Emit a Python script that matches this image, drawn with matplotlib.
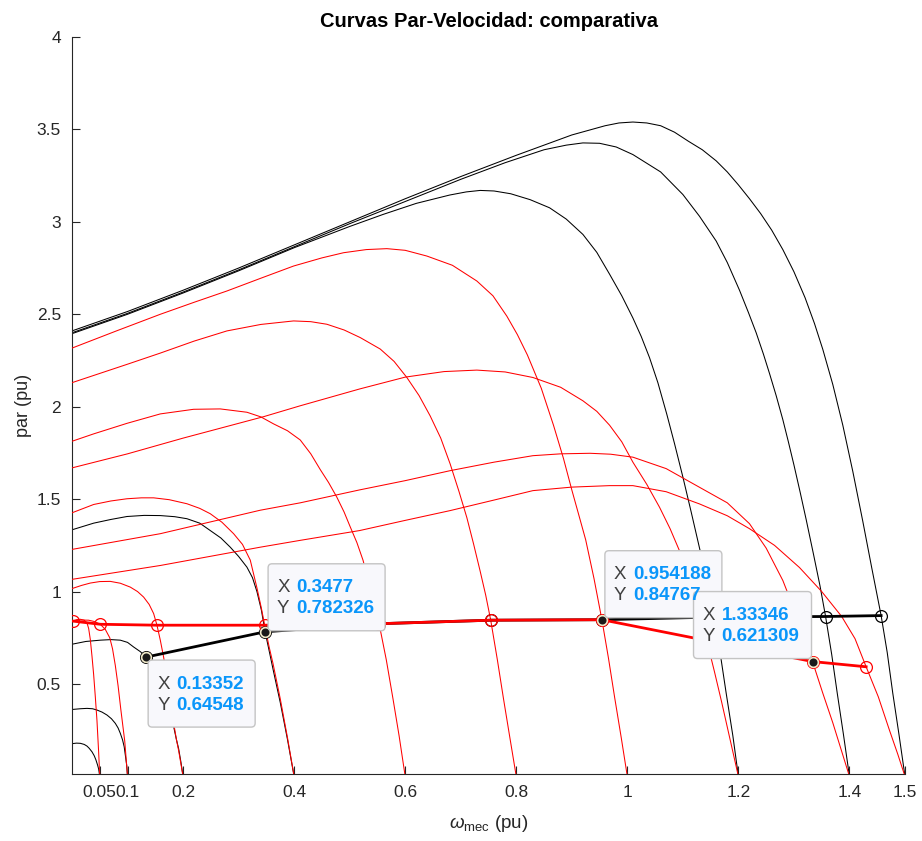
import matplotlib
matplotlib.use('Agg')
import matplotlib.pyplot as plt
from matplotlib.patches import FancyBboxPatch
from matplotlib.transforms import IdentityTransform

plt.rcParams['font.family'] = ['Liberation Sans', 'DejaVu Sans']
plt.rcParams['mathtext.fontset'] = 'custom'
plt.rcParams['mathtext.rm'] = 'Liberation Sans'
plt.rcParams['mathtext.it'] = 'Liberation Sans:italic'

# ---------------- data ----------------
# black curves (sync speed in the name)
b005_w = [0, 0.008, 0.015, 0.022, 0.027, 0.031, 0.036, 0.04, 0.043, 0.046, 0.048, 0.05]
b005_t = [0.177, 0.18, 0.179, 0.173, 0.164, 0.152, 0.133, 0.112, 0.09, 0.062, 0.04, 0.0]
b01_w = [0, 0.015, 0.027, 0.037, 0.045, 0.054, 0.063, 0.071, 0.078, 0.083, 0.087, 0.091, 0.094, 0.0965, 0.0985, 0.1]
b01_t = [0.362, 0.366, 0.368, 0.366, 0.359, 0.348, 0.332, 0.312, 0.287, 0.262, 0.233, 0.198, 0.16, 0.105, 0.06, 0.0]
b02_w = [0, 0.025, 0.051, 0.07, 0.087, 0.1, 0.111, 0.123, 0.13352, 0.142, 0.15, 0.158, 0.165, 0.171,
         0.177, 0.183, 0.188, 0.192, 0.196, 0.2]
b02_t = [0.715, 0.73, 0.737, 0.74, 0.737, 0.725, 0.70, 0.675, 0.64548, 0.61, 0.57, 0.52, 0.47, 0.42,
         0.35, 0.27, 0.2, 0.15, 0.08, 0.0]
b04_w = [0, 0.039, 0.07, 0.099, 0.13, 0.159, 0.185, 0.207, 0.23, 0.249, 0.268, 0.285, 0.3, 0.315,
         0.325, 0.333, 0.341, 0.3477, 0.355, 0.362, 0.375, 0.388, 0.4]
b04_t = [1.334, 1.37, 1.39, 1.406, 1.412, 1.411, 1.405, 1.394, 1.37, 1.33, 1.29, 1.24, 1.19, 1.132,
         1.075, 1.0, 0.9, 0.782326, 0.68, 0.58, 0.40, 0.2, 0.0]
b12_w = [0, 0.1, 0.2, 0.3, 0.4, 0.5, 0.56, 0.62, 0.68, 0.71, 0.735, 0.76, 0.79, 0.825, 0.86, 0.89,
         0.92, 0.945, 0.968, 0.99, 1.01, 1.025, 1.04, 1.055, 1.071, 1.085, 1.1, 1.115, 1.13, 1.145,
         1.157, 1.168, 1.178, 1.19, 1.2]
b12_t = [2.395, 2.50, 2.615, 2.735, 2.86, 2.975, 3.04, 3.10, 3.145, 3.162, 3.17, 3.167, 3.152, 3.12,
         3.076, 3.015, 2.932, 2.835, 2.717, 2.6, 2.48, 2.38, 2.265, 2.13, 1.96, 1.8, 1.62, 1.43, 1.235,
         1.04, 0.862, 0.65, 0.45, 0.22, 0.0]
b14_w = [0, 0.1, 0.2, 0.3, 0.4, 0.5, 0.6, 0.7, 0.78, 0.85, 0.89, 0.92, 0.95, 0.98, 1.01, 1.06, 1.1,
         1.13, 1.16, 1.18, 1.202, 1.218, 1.232, 1.245, 1.256, 1.268, 1.28, 1.29, 1.30, 1.311, 1.322,
         1.335, 1.347, 1.357, 1.368, 1.378, 1.389, 1.4]
b14_t = [2.40, 2.505, 2.62, 2.74, 2.865, 2.99, 3.11, 3.23, 3.32, 3.39, 3.415, 3.427, 3.425, 3.405,
         3.364, 3.27, 3.148, 3.03, 2.896, 2.78, 2.63, 2.51, 2.40, 2.285, 2.18, 2.06, 1.93, 1.81, 1.685,
         1.54, 1.39, 1.205, 1.03, 0.865, 0.66, 0.45, 0.23, 0.0]
b15_w = [0, 0.1, 0.2, 0.3, 0.4, 0.5, 0.6, 0.7, 0.8, 0.9, 0.96, 0.985, 1.01, 1.035, 1.06, 1.085, 1.11,
         1.135, 1.16, 1.18, 1.2, 1.22, 1.24, 1.26, 1.28, 1.3, 1.32, 1.337, 1.352, 1.37, 1.388, 1.406,
         1.424, 1.44, 1.457, 1.468, 1.478, 1.489, 1.5]
b15_t = [2.41, 2.515, 2.63, 2.75, 2.875, 3.0, 3.125, 3.245, 3.36, 3.47, 3.52, 3.535, 3.54, 3.535,
         3.52, 3.485, 3.436, 3.39, 3.33, 3.27, 3.2, 3.125, 3.045, 2.955, 2.85, 2.73, 2.59, 2.45, 2.31,
         2.12, 1.9, 1.65, 1.38, 1.13, 0.87, 0.67, 0.45, 0.23, 0.0]

# red curves
r005_w = [0, 0.008, 0.015, 0.022, 0.027, 0.03, 0.033, 0.036, 0.039, 0.042, 0.045, 0.048, 0.05]
r005_t = [0.84, 0.848, 0.85, 0.845, 0.83, 0.80, 0.74, 0.65, 0.55, 0.43, 0.30, 0.13, 0.0]
r01_w = [0, 0.015, 0.03, 0.04, 0.051, 0.06, 0.068, 0.073, 0.078, 0.083, 0.088, 0.095, 0.1]
r01_t = [0.84, 0.846, 0.845, 0.838, 0.823, 0.795, 0.75, 0.69, 0.60, 0.49, 0.36, 0.19, 0.0]
r02_w = [0, 0.017, 0.033, 0.05, 0.069, 0.087, 0.105, 0.118, 0.129, 0.139, 0.147, 0.153, 0.159,
         0.165, 0.17, 0.176, 0.183, 0.188, 0.192, 0.196, 0.2]
r02_t = [1.016, 1.033, 1.046, 1.054, 1.055, 1.045, 1.024, 1.0, 0.97, 0.93, 0.881, 0.818, 0.737,
         0.645, 0.55, 0.43, 0.29, 0.2, 0.14, 0.07, 0.0]
r04_w = [0, 0.039, 0.07, 0.099, 0.125, 0.147, 0.175, 0.207, 0.23, 0.249, 0.27, 0.291, 0.307, 0.321,
         0.333, 0.341, 0.347, 0.355, 0.362, 0.375, 0.388, 0.4]
r04_t = [1.426, 1.471, 1.49, 1.502, 1.507, 1.507, 1.497, 1.475, 1.45, 1.421, 1.375, 1.313, 1.255,
         1.17, 1.02, 0.91, 0.818, 0.70, 0.61, 0.42, 0.21, 0.0]
r06_w = [0, 0.039, 0.099, 0.159, 0.219, 0.267, 0.315, 0.34, 0.363, 0.388, 0.411, 0.43, 0.447, 0.462,
         0.477, 0.49, 0.501, 0.513, 0.524, 0.538, 0.553, 0.566, 0.578, 0.589, 0.6]
r06_t = [1.813, 1.853, 1.91, 1.961, 1.986, 1.988, 1.97, 1.945, 1.907, 1.87, 1.82, 1.745, 1.66, 1.59,
         1.51, 1.43, 1.35, 1.265, 1.17, 1.01, 0.826, 0.63, 0.42, 0.22, 0.0]
r08_w = [0, 0.1, 0.159, 0.22, 0.279, 0.34, 0.399, 0.43, 0.459, 0.49, 0.519, 0.555, 0.58, 0.603,
         0.625, 0.645, 0.664, 0.681, 0.697, 0.711, 0.723, 0.735, 0.745, 0.754, 0.766, 0.777, 0.789, 0.8]
r08_t = [2.13, 2.23, 2.29, 2.355, 2.41, 2.445, 2.464, 2.46, 2.446, 2.415, 2.374, 2.312, 2.245, 2.158,
         2.06, 1.95, 1.83, 1.69, 1.54, 1.40, 1.259, 1.11, 0.98, 0.845, 0.63, 0.42, 0.2, 0.0]
r10_w = [0, 0.08, 0.159, 0.22, 0.279, 0.34, 0.399, 0.45, 0.489, 0.53, 0.567, 0.6, 0.639, 0.685,
         0.729, 0.758, 0.783, 0.802, 0.82, 0.845, 0.867, 0.885, 0.9, 0.913, 0.925, 0.94, 0.954188,
         0.966, 0.977, 0.989, 1.0]
r10_t = [2.317, 2.41, 2.5, 2.565, 2.626, 2.695, 2.761, 2.805, 2.833, 2.85, 2.855, 2.846, 2.815, 2.765,
         2.68, 2.60, 2.49, 2.39, 2.28, 2.10, 1.90, 1.72, 1.55, 1.41, 1.28, 1.07, 0.84767, 0.64, 0.43,
         0.21, 0.0]
r12_w = [0, 0.1, 0.2, 0.345, 0.411, 0.518, 0.6, 0.67, 0.729, 0.78, 0.83, 0.88, 0.92, 0.945, 0.968,
         0.99, 1.01, 1.035, 1.058, 1.077, 1.094, 1.108, 1.12, 1.132, 1.143, 1.157, 1.17, 1.185, 1.2]
r12_t = [1.669, 1.745, 1.83, 1.946, 2.005, 2.096, 2.16, 2.19, 2.198, 2.188, 2.158, 2.105, 2.032,
         1.975, 1.90, 1.81, 1.70, 1.58, 1.456, 1.34, 1.22, 1.11, 1.0, 0.87, 0.735, 0.565, 0.40, 0.2, 0.0]
r14_w = [0, 0.159, 0.339, 0.411, 0.518, 0.6, 0.681, 0.76, 0.83, 0.88, 0.933, 0.97, 1.01, 1.07, 1.13,
         1.18, 1.22, 1.25, 1.28, 1.31, 1.33346, 1.352, 1.37, 1.385, 1.4]
r14_t = [1.228, 1.313, 1.44, 1.48, 1.55, 1.60, 1.654, 1.70, 1.735, 1.745, 1.748, 1.743, 1.727, 1.665,
         1.564, 1.48, 1.367, 1.235, 1.06, 0.83, 0.621309, 0.45, 0.29, 0.145, 0.0]
r15_w = [0, 0.159, 0.339, 0.411, 0.518, 0.6, 0.681, 0.76, 0.83, 0.9, 0.968, 1.01, 1.07, 1.13, 1.18,
         1.22, 1.265, 1.31, 1.35, 1.386, 1.41, 1.43, 1.452, 1.472, 1.487, 1.5]
r15_t = [1.066, 1.141, 1.24, 1.277, 1.33, 1.385, 1.438, 1.495, 1.546, 1.565, 1.573, 1.573, 1.54,
         1.474, 1.41, 1.34, 1.25, 1.13, 1.0, 0.865, 0.745, 0.593, 0.43, 0.25, 0.12, 0.0]

# operating points
op_black_w = [0.13352, 0.3477, 0.553, 0.754, 0.954188, 1.157, 1.357, 1.457]
op_black_t = [0.64548, 0.782326, 0.826, 0.845, 0.84767, 0.862, 0.865, 0.87]
op_red_w = [0.002, 0.051, 0.153, 0.347, 0.553, 0.754, 0.954188, 1.143, 1.33346, 1.43]
op_red_t = [0.84, 0.823, 0.818, 0.818, 0.826, 0.845, 0.84767, 0.735, 0.621309, 0.593]

# data tips
tip_x = [0.3477, 0.13352, 0.954188, 1.33346]
tip_y = [0.782326, 0.64548, 0.84767, 0.621309]
tip_xs = ['0.3477', '0.13352', '0.954188', '1.33346']
tip_ys = ['0.782326', '0.64548', '0.84767', '0.621309']

x_ticks = [0.05, 0.1, 0.2, 0.4, 0.6, 0.8, 1, 1.2, 1.4, 1.5]
x_tick_labels = ['0.05', '0.1', '0.2', '0.4', '0.6', '0.8', '1', '1.2', '1.4', '1.5']
y_ticks = [0.5, 1, 1.5, 2, 2.5, 3, 3.5, 4]
y_tick_labels = ['0.5', '1', '1.5', '2', '2.5', '3', '3.5', '4']

# ---------------- figure ----------------
W, H = 922, 841
fig = plt.figure(figsize=(W / 100, H / 100), dpi=100)
ax = fig.add_axes([72 / W, (H - 774) / H, (905 - 72) / W, (774 - 37) / H])

axc = '#262626'
thin = 0.75
for w, t in [(b005_w, b005_t), (b01_w, b01_t), (b02_w, b02_t), (b04_w, b04_t),
             (b12_w, b12_t), (b14_w, b14_t), (b15_w, b15_t)]:
    ax.plot(w, t, color='black', lw=thin, zorder=2, solid_joinstyle='round')
for w, t in [(r005_w, r005_t), (r01_w, r01_t), (r02_w, r02_t), (r04_w, r04_t), (r06_w, r06_t),
             (r08_w, r08_t), (r10_w, r10_t), (r12_w, r12_t), (r14_w, r14_t), (r15_w, r15_t)]:
    ax.plot(w, t, color='red', lw=thin, zorder=3, solid_joinstyle='round')

ax.plot(op_black_w, op_black_t, color='black', lw=2.0, marker='o', ms=8.5,
        mfc='none', mec='black', mew=0.9, zorder=4)
ax.plot(op_red_w, op_red_t, color='red', lw=2.0, marker='o', ms=8.5,
        mfc='none', mec='red', mew=0.9, zorder=5)

ax.set_xlim(0, 1.5)
ax.set_ylim(0.013, 4)
ax.set_xticks(x_ticks)
ax.set_xticklabels(x_tick_labels)
ax.set_yticks(y_ticks)
ax.set_yticklabels(y_tick_labels)
ax.tick_params(direction='in', length=6, width=0.8, colors=axc, labelsize=12.5, pad=8)
for s in ['top', 'right']:
    ax.spines[s].set_visible(False)
for s in ['left', 'bottom']:
    ax.spines[s].set_color(axc)
    ax.spines[s].set_linewidth(0.8)

ax.set_title('Curvas Par-Velocidad: comparativa', fontsize=14.5, fontweight='bold',
             color='black', pad=7)
ax.set_ylabel('par (pu)', fontsize=13, color=axc, labelpad=3)
ax.set_xlabel(r'$\omega_{\mathrm{mec}}$ (pu)', fontsize=13.5, color=axc, labelpad=9)

# datatip markers
ax.plot(tip_x, tip_y, linestyle='none', marker='o', ms=7, mfc='#1a1a1a', mec='#efe8c8',
        mew=1.2, zorder=8)

# data tip boxes (pixel offsets: left, top relative to the point; y up)
fig.canvas.draw()
offsets = [(3, 68, 117), (2, -3, 107), (3, 69, 117), (-119, 70, 118)]
bh = 67
ident = IdentityTransform()
for (x, y, sx, sy, (dx, dy, bw)) in zip(tip_x, tip_y, tip_xs, tip_ys, offsets):
    px, py = ax.transData.transform((x, y))
    left = px + dx
    top = py + dy
    box = FancyBboxPatch((left, top - bh), bw, bh,
                         boxstyle='round,pad=0,rounding_size=4',
                         transform=ident, facecolor='#f8f8fc', edgecolor='#c4c4c4',
                         lw=1.0, zorder=20)
    fig.add_artist(box)
    for k, (lab, val) in enumerate([('X', sx), ('Y', sy)]):
        yy = top - 24 - 21 * k
        fig.text(left + 9, yy, lab, transform=ident, fontsize=13.5, color='#404040',
                 va='center', ha='left', zorder=21)
        fig.text(left + 28, yy, val, transform=ident, fontsize=13.5, color='#0a96fa',
                 fontweight='bold', va='center', ha='left', zorder=21)

fig.savefig('out.png', dpi=100, facecolor='white')
